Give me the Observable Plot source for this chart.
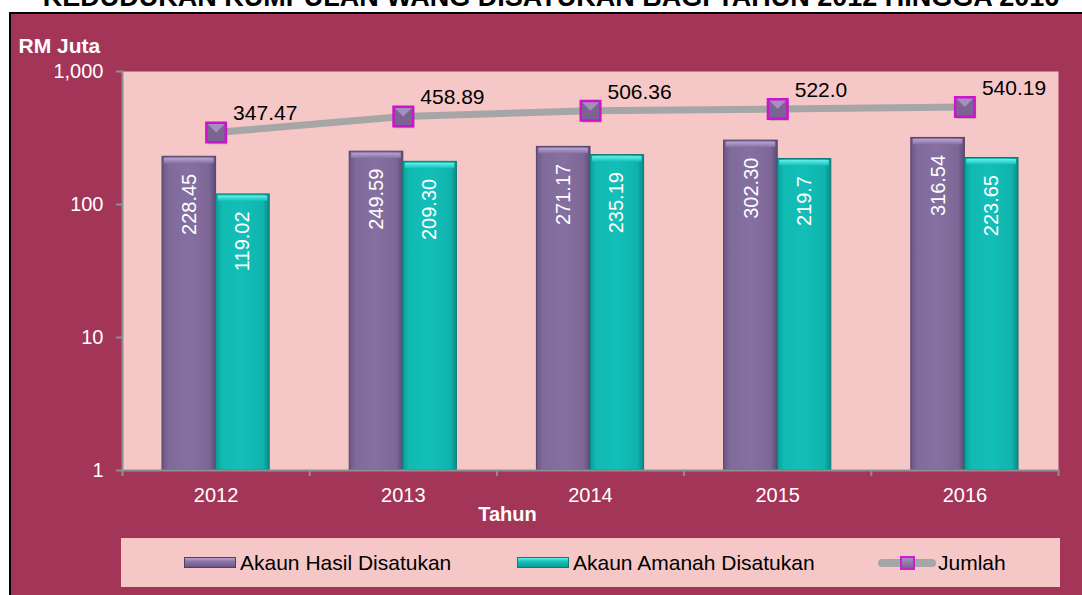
<!DOCTYPE html>
<html>
<head>
<meta charset="utf-8">
<script src="https://cdn.jsdelivr.net/npm/d3@7"></script>
<script src="https://cdn.jsdelivr.net/npm/@observablehq/plot@0.6"></script>
<style>
  html, body { margin: 0; padding: 0; background: #ffffff; }
  body { width: 1082px; height: 595px; overflow: hidden; position: relative; font-family: "Liberation Sans", Arial, sans-serif; }
  #title { position: absolute; left: 0; width: 1102px; top: -16px; line-height: 27px; font-size: 27px; font-weight: bold; text-align: center; color: #000; white-space: nowrap; }
  #box { position: absolute; left: 9px; top: 12px; width: 1090px; height: 600px; box-sizing: border-box; border: 2px solid #000; background: #A33558; }
  #chart { position: absolute; left: 11px; top: 14px; width: 1071px; }
  #legend { position: absolute; left: 121px; top: 538px; width: 939px; height: 49px; background: #F6C7C7; font-size: 21px; color: #000; }
  #legend .sw { position: absolute; top: 19px; height: 11px; box-sizing: border-box; }
  #legend .lbl { position: absolute; top: 0; line-height: 49px; white-space: nowrap; }
  #legend .sw1 { left: 63px; width: 52px; background: linear-gradient(#B7A2D2, #8A74A6 40%, #6C5786); border: 1px solid #4F4063; }
  #legend .sw2 { left: 396px; width: 52px; background: linear-gradient(#5FF0E8, #14C2BA 40%, #0A9C96); border: 1px solid #087C78; }
  #legend .ln { position: absolute; left: 757px; top: 21px; width: 58px; height: 8px; border-radius: 4px; background: #A6A6A6; }
  #legend .mk { position: absolute; left: 779px; top: 18px; width: 15px; height: 14px; box-sizing: border-box; border: 2px solid #D01CD0; background: linear-gradient(#A58FC2, #7A6394); }
</style>
</head>
<body>
<div id="title">KEDUDUKAN KUMPULAN WANG DISATUKAN BAGI TAHUN 2012 HINGGA 2016</div>
<div id="box"></div>
<div id="chart"></div>
<div id="legend">
  <div class="sw sw1"></div><div class="lbl" style="left:119px">Akaun Hasil Disatukan</div>
  <div class="sw sw2"></div><div class="lbl" style="left:452px">Akaun Amanah Disatukan</div>
  <div class="ln"></div><div class="mk"></div><div class="lbl" style="left:817px">Jumlah</div>
</div>
<script>
// ---- data ----
const years = [2012, 2013, 2014, 2015, 2016];
const hasil = [228.45, 249.59, 271.17, 302.30, 316.54];
const amanah = [119.02, 209.30, 235.19, 219.7, 223.65];
const jumlah = [347.47, 458.89, 506.36, 522.0, 540.19];
const hasilLabels = ["228.45", "249.59", "271.17", "302.30", "316.54"];
const amanahLabels = ["119.02", "209.30", "235.19", "219.7", "223.65"];
const jumlahLabels = ["347.47", "458.89", "506.36", "522.0", "540.19"];
const yTicks = [1, 10, 100, 1000];
const yLabel = "RM Juta";
const xLabel = "Tahun";

// ---- tables ----
const hasilData = years.map((year, i) => ({year, value: hasil[i], label: hasilLabels[i]}));
const amanahData = years.map((year, i) => ({year, value: amanah[i], label: amanahLabels[i]}));
const jumlahData = years.map((year, i) => ({year, value: jumlah[i], label: jumlahLabels[i]}));
const bounds = years.map(y => y - 0.5).concat([years[years.length - 1] + 0.5]);

const W = 1071, H = 522;
const axisGray = "#8F8F8F";

const defs = () => {
  const g = d3.create("svg:defs");
  const mk = (id, stops, vertical) => {
    const lg = g.append("linearGradient").attr("id", id)
      .attr("x1", "0").attr("x2", vertical ? "0" : "1").attr("y1", "0").attr("y2", vertical ? "1" : "0");
    stops.forEach(([o, c]) => lg.append("stop").attr("offset", o).attr("stop-color", c));
  };
  mk("gPurple", [["0", "#6A5584"], ["0.12", "#7F6A9A"], ["0.5", "#8670A1"], ["0.88", "#7C6797"], ["1", "#5E4B77"]]);
  mk("gTeal", [["0", "#0A9D98"], ["0.12", "#11BAB3"], ["0.5", "#13BFB8"], ["0.88", "#10B3AD"], ["1", "#0A8C88"]]);
  mk("gCapP", [["0", "#B9A5D4"], ["1", "#8670A1"]], true);
  mk("gCapT", [["0", "#62F2EA"], ["1", "#13BFB8"]], true);
  return g.node();
};

// bevel highlight on the top face of the Jumlah markers
const topFacet = {
  draw(ctx, size) {
    const s = Math.sqrt(size) / 2;
    ctx.moveTo(-s, -s);
    ctx.lineTo(s, -s);
    ctx.lineTo(0, 0);
    ctx.closePath();
  }
};

const chart = Plot.plot({
  width: W,
  height: H,
  marginLeft: 111,
  marginTop: 57,
  marginRight: 24,
  marginBottom: 66,
  x: {domain: [bounds[0], bounds[bounds.length - 1]]},
  y: {type: "log", domain: [1, 1000]},
  style: {background: "transparent", fontFamily: "'Liberation Sans', Arial, sans-serif", fontSize: "20px", overflow: "visible"},
  marks: [
    defs,
    Plot.frame({fill: "#F6C7C7", stroke: null}),
    Plot.rectY(hasilData, {x1: d => d.year - 0.5, x2: d => d.year, y1: 1, y2: "value", insetLeft: 40, fill: "url(#gPurple)", stroke: "#54446A", strokeWidth: 1}),
    Plot.rectY(amanahData, {x1: d => d.year, x2: d => d.year + 0.5, y1: 1, y2: "value", insetRight: 40, fill: "url(#gTeal)", stroke: "#0B7A76", strokeWidth: 1}),
    Plot.rectY(hasilData, {x1: d => d.year - 0.5, x2: d => d.year, y1: "value", y2: "value", insetLeft: 42, insetRight: 2, insetTop: 1.5, insetBottom: -7, fill: "url(#gCapP)"}),
    Plot.rectY(amanahData, {x1: d => d.year, x2: d => d.year + 0.5, y1: "value", y2: "value", insetLeft: 2, insetRight: 42, insetTop: 1.5, insetBottom: -7, fill: "url(#gCapT)"}),
    Plot.text(hasilData, {x: "year", y: "value", text: "label", rotate: -90, textAnchor: "end", lineAnchor: "middle", dx: -26.5, dy: 17, fill: "white", fontSize: 20}),
    Plot.text(amanahData, {x: "year", y: "value", text: "label", rotate: -90, textAnchor: "end", lineAnchor: "middle", dx: 26.5, dy: 17, fill: "white", fontSize: 20}),
    Plot.line(jumlahData, {x: "year", y: "value", stroke: "#A6A6A6", strokeWidth: 7}),
    Plot.dot(jumlahData, {x: "year", y: "value", symbol: "square", r: 11, fill: "#6F5887", stroke: null, dx: 1.5, dy: 2, fillOpacity: 0.35}),
    Plot.dot(jumlahData, {x: "year", y: "value", symbol: "square", r: 11, fill: "#7B6494", stroke: null}),
    Plot.dot(jumlahData, {x: "year", y: "value", symbol: topFacet, r: 11, fill: "#A48FC0", stroke: null}),
    Plot.dot(jumlahData, {x: "year", y: "value", symbol: "square", r: 11, fill: "none", stroke: "#CC14CC", strokeWidth: 2.5}),
    Plot.text(jumlahData, {x: "year", y: "value", text: "label", textAnchor: "start", dx: 17, dy: -19, fill: "#000", fontSize: 21}),
    Plot.frame({anchor: "left", stroke: axisGray, strokeWidth: 2}),
    Plot.frame({anchor: "bottom", stroke: axisGray, strokeWidth: 2}),
    Plot.axisY({ticks: yTicks, tickFormat: d3.format(","), tickSize: 6, tickPadding: 13, stroke: axisGray, strokeWidth: 2, fill: "white", fontSize: 20, label: null}),
    Plot.axisX({ticks: bounds, tickFormat: () => "", tickSize: 6, stroke: axisGray, strokeWidth: 2, label: null}),
    Plot.axisX({ticks: years, tickFormat: d => String(d), tickSize: 0, tickPadding: 17, fill: "white", fontSize: 20, label: null}),
    Plot.text([yLabel], {frameAnchor: "top-left", text: d => d, dx: -104, dy: -33, textAnchor: "start", fontWeight: "bold", fontSize: 21, fill: "white"}),
    Plot.text([xLabel], {frameAnchor: "bottom-left", text: d => d, dx: 385, dy: 50, textAnchor: "middle", fontWeight: "bold", fontSize: 20, fill: "white"})
  ]
});
document.getElementById("chart").appendChild(chart);
</script>
</body>
</html>
